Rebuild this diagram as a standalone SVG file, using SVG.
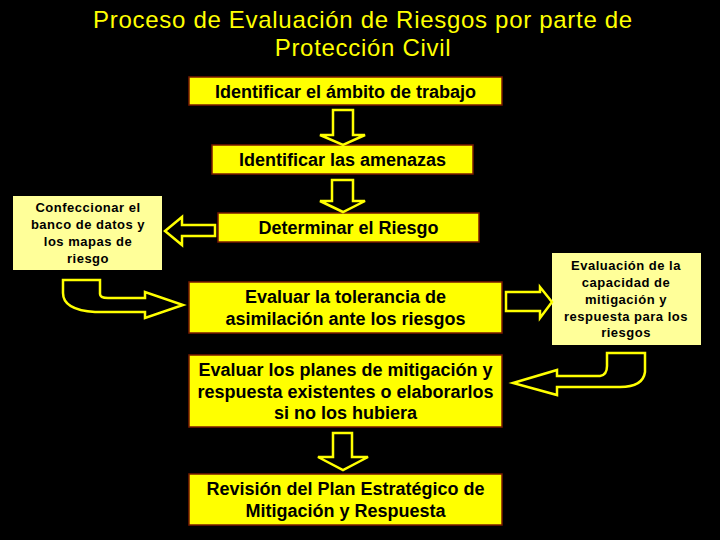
<svg xmlns="http://www.w3.org/2000/svg" width="720" height="540" viewBox="0 0 720 540">
<style>
.bg{fill:#000}
.title{font-family:"Liberation Sans",Arial,sans-serif;font-size:24px;fill:#FFFF00;text-anchor:middle;letter-spacing:0.7px}
.box{fill:#FFFF00;stroke:#7a1a00;stroke-width:1.5}
.side{fill:#FFFF99}
.t{font-family:"Liberation Sans",Arial,sans-serif;font-size:18px;font-weight:bold;fill:#000;text-anchor:middle}
.ts{font-family:"Liberation Sans",Arial,sans-serif;font-size:13px;font-weight:bold;fill:#000;text-anchor:middle;letter-spacing:0.5px}
.arr{fill:#000;stroke:#FFFF00;stroke-width:2.5;stroke-linejoin:miter}
</style>
<rect class="bg" x="0" y="0" width="720" height="540"/>
<g id="title">
<text class="title" x="363" y="28">Proceso de Evaluación de Riesgos por parte de</text>
<text class="title" x="363" y="56">Protección Civil</text>
</g>
<g id="n1">
<rect class="box" x="189" y="77" width="313" height="28"/>
<text class="t" x="345.5" y="98">Identificar el ámbito de trabajo</text>
</g>
<g id="n2">
<rect class="box" x="212" y="145" width="261" height="29"/>
<text class="t" x="342.5" y="166">Identificar las amenazas</text>
</g>
<g id="n3">
<rect class="box" x="218" y="213" width="261" height="29"/>
<text class="t" x="348.5" y="234">Determinar el Riesgo</text>
</g>
<g id="n4">
<rect class="box" x="189" y="282" width="313" height="51"/>
<text class="t" x="345.5" y="303">Evaluar la tolerancia de</text>
<text class="t" x="345.5" y="325">asimilación ante los riesgos</text>
</g>
<g id="n5">
<rect class="box" x="189" y="355" width="313" height="72"/>
<text class="t" x="345.5" y="376">Evaluar los planes de mitigación y</text>
<text class="t" x="345.5" y="398">respuesta existentes o elaborarlos</text>
<text class="t" x="345.5" y="419">si no los hubiera</text>
</g>
<g id="n6">
<rect class="box" x="189" y="474" width="313" height="51"/>
<text class="t" x="345.5" y="495">Revisión del Plan Estratégico de</text>
<text class="t" x="345.5" y="517">Mitigación y Respuesta</text>
</g>
<g id="left">
<rect class="side" x="13" y="196" width="149" height="74"/>
<text class="ts" x="88" y="212">Confeccionar el</text>
<text class="ts" x="88" y="229">banco de datos y</text>
<text class="ts" x="88" y="246">los mapas de</text>
<text class="ts" x="88" y="263">riesgo</text>
</g>
<g id="right">
<rect class="side" x="552" y="253" width="149" height="92"/>
<text class="ts" x="626" y="270">Evaluación de la</text>
<text class="ts" x="626" y="287">capacidad de</text>
<text class="ts" x="626" y="304">mitigación y</text>
<text class="ts" x="626" y="321">respuesta para los</text>
<text class="ts" x="626" y="337">riesgos</text>
</g>
<g id="connectors">
<path class="arr" d="M333,110 H353 V135 H365 L343,145 L320,135 H333 Z"/>
<path class="arr" d="M332,180 H353 V201 H365 L343,212 L320,201 H332 Z"/>
<path class="arr" d="M333,433 H352 V457 H368 L343,470 L318,457 H333 Z"/>
<path class="arr" d="M215,225 H182 V217 L165,231 L182,245 V236 H215 Z"/>
<path class="arr" d="M506,292 H540 V287 L552,302 L540,318 V311 H506 Z"/>
<path class="arr" d="M63,280 H100 V294 Q100,298 108,298 H145 V292 L183,305 L145,318 V312 H95 Q63,310 63,293 Z"/>
<path class="arr" d="M645,353 V372 Q643,387 620,387 H557 V395 L513,383 L557,370 V376 H600 Q607,375 607,366 V353 Z"/>
</g>
</svg>
